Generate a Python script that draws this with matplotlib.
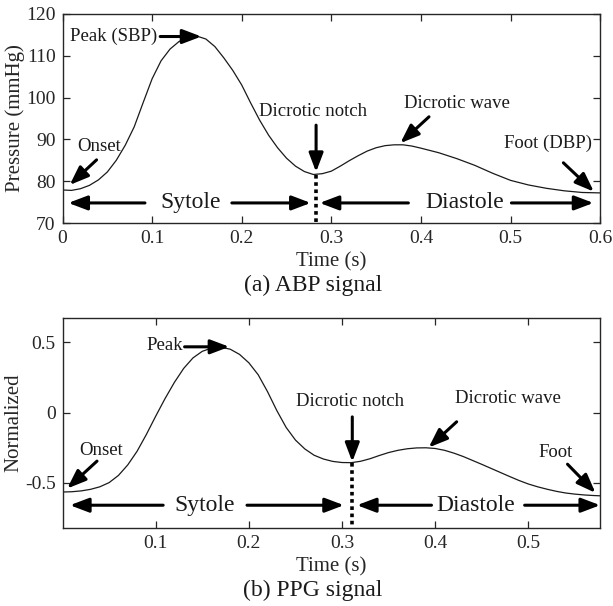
import matplotlib
matplotlib.use("Agg")
import matplotlib.pyplot as plt

plt.rcParams['font.family'] = ['Liberation Serif', 'DejaVu Serif']

# ABP waveform (time in s, pressure in mmHg)
abp_t = [0.000, 0.010, 0.020, 0.030, 0.040, 0.050, 0.060, 0.070, 0.080, 0.090,
         0.100, 0.110, 0.120, 0.130, 0.140, 0.150, 0.160, 0.170, 0.180, 0.190,
         0.200, 0.210, 0.220, 0.230, 0.240, 0.250, 0.260, 0.270, 0.280, 0.290,
         0.300, 0.310, 0.320, 0.330, 0.340, 0.350, 0.360, 0.370, 0.380, 0.390,
         0.400, 0.420, 0.440, 0.460, 0.480, 0.500, 0.520, 0.540, 0.560, 0.580,
         0.600]
abp_p = [77.9, 77.8, 78.2, 79.0, 80.3, 82.2, 85.0, 88.6, 93.0, 98.8,
         104.5, 108.8, 111.6, 113.4, 114.4, 114.7, 114.0, 112.2, 109.5, 106.5,
         103.0, 98.7, 94.6, 91.0, 88.0, 85.5, 83.6, 82.3, 81.6, 81.8,
         82.4, 83.6, 84.9, 86.1, 87.2, 88.0, 88.5, 88.7, 88.7, 88.4,
         87.9, 86.8, 85.4, 83.8, 81.9, 80.2, 79.1, 78.3, 77.7, 77.3,
         77.2]

# PPG waveform (time in s, normalized amplitude)
ppg_t = [0.000, 0.010, 0.020, 0.030, 0.040, 0.050, 0.060, 0.070, 0.080, 0.090,
         0.100, 0.110, 0.120, 0.130, 0.140, 0.150, 0.160, 0.170, 0.180, 0.190,
         0.200, 0.210, 0.220, 0.230, 0.240, 0.250, 0.260, 0.270, 0.280, 0.290,
         0.300, 0.310, 0.320, 0.330, 0.340, 0.350, 0.360, 0.370, 0.380, 0.390,
         0.400, 0.410, 0.420, 0.430, 0.440, 0.450, 0.460, 0.470, 0.480, 0.490,
         0.500, 0.510, 0.520, 0.530, 0.540, 0.550, 0.560, 0.570, 0.577]
ppg_v = [-0.565, -0.563, -0.557, -0.546, -0.528, -0.498, -0.447, -0.372, -0.275, -0.155,
         -0.025, 0.100, 0.215, 0.315, 0.390, 0.437, 0.460, 0.466, 0.452, 0.415,
         0.355, 0.270, 0.150, 0.015, -0.105, -0.195, -0.258, -0.303, -0.330, -0.347,
         -0.355, -0.356, -0.346, -0.328, -0.305, -0.284, -0.268, -0.257, -0.251, -0.250,
         -0.255, -0.268, -0.288, -0.312, -0.340, -0.368, -0.397, -0.426, -0.455, -0.483,
         -0.508, -0.528, -0.545, -0.560, -0.572, -0.580, -0.586, -0.590, -0.592]

abp_xticks = [0, 0.1, 0.2, 0.3, 0.4, 0.5, 0.6]
abp_xlabels = ['0', '0.1', '0.2', '0.3', '0.4', '0.5', '0.6']
abp_yticks = [70, 80, 90, 100, 110, 120]
ppg_xticks = [0.1, 0.2, 0.3, 0.4, 0.5]
ppg_xlabels = ['0.1', '0.2', '0.3', '0.4', '0.5']
ppg_yticks = [-0.5, 0, 0.5]
ppg_ylabels = ['-0.5', '0', '0.5']

# notch times used for the systole/diastole divider
abp_notch = (0.283, 81.6)
ppg_notch = (0.311, -0.356)

AX_COLOR = '#262626'
ARROW = dict(arrowstyle='-|>,head_length=0.95,head_width=0.36', lw=2.2,
             color='black', shrinkA=0, shrinkB=0, mutation_scale=12)


def arrow(ax, tail, tip):
    ax.annotate('', xy=tip, xytext=tail, arrowprops=ARROW)


def style_axes(ax):
    for s in ax.spines.values():
        s.set_color(AX_COLOR)
        s.set_linewidth(1.0)
    ax.tick_params(direction='in', length=5, width=0.9, colors=AX_COLOR,
                   labelsize=14, top=True, right=True, pad=5)


fig = plt.figure(figsize=(6.13, 6.06), dpi=100)
ax1 = fig.add_axes([0.102, 0.632, 0.877, 0.345])
ax2 = fig.add_axes([0.102, 0.129, 0.877, 0.3455])

# (a) ABP
ax1.plot(abp_t, abp_p, color='#1a1a1a', lw=0.9)
ax1.set_xlim(0, 0.6)
ax1.set_ylim(70, 120)
ax1.set_xticks(abp_xticks)
ax1.set_xticklabels(abp_xlabels)
ax1.set_yticks(abp_yticks)
style_axes(ax1)
ax1.set_xlabel('Time (s)', fontsize=15, color=AX_COLOR, labelpad=4)
ax1.set_ylabel('Pressure (mmHg)', fontsize=15, color=AX_COLOR, labelpad=1)

ann = dict(fontsize=13.5, color='#1a1a1a')
ax1.text(0.008, 114.6, 'Peak (SBP)', ha='left', va='center', **ann)
arrow(ax1, (0.109, 114.6), (0.155, 114.6))
ax1.text(0.041, 88.2, 'Onset', ha='center', va='center', **ann)
arrow(ax1, (0.038, 85.1), (0.008, 79.1))
ax1.text(0.279, 96.6, 'Dicrotic notch', ha='center', va='center', **ann)
arrow(ax1, (abp_notch[0], 93.4), (abp_notch[0], 82.2))
ax1.text(0.440, 98.6, 'Dicrotic wave', ha='center', va='center', **ann)
arrow(ax1, (0.409, 95.4), (0.377, 89.1))
ax1.text(0.542, 89.0, 'Foot (DBP)', ha='center', va='center', **ann)
arrow(ax1, (0.559, 84.4), (0.593, 77.5))

ax1.plot([abp_notch[0], abp_notch[0]], [abp_notch[1], 70], color='black',
         lw=2.6, ls=(0, (1, 1)))
ax1.text(0.143, 74.8, 'Sytole', ha='center', va='center', fontsize=17, color='#1a1a1a')
arrow(ax1, (0.092, 74.8), (0.0065, 74.8))
arrow(ax1, (0.189, 74.8), (0.277, 74.8))
ax1.text(0.449, 74.8, 'Diastole', ha='center', va='center', fontsize=17, color='#1a1a1a')
arrow(ax1, (0.386, 74.8), (0.287, 74.8))
arrow(ax1, (0.501, 74.8), (0.5925, 74.8))

# (b) PPG
ax2.plot(ppg_t, ppg_v, color='#1a1a1a', lw=0.9)
ax2.set_xlim(0, 0.577)
ax2.set_ylim(-0.82, 0.671)
ax2.set_xticks(ppg_xticks)
ax2.set_xticklabels(ppg_xlabels)
ax2.set_yticks(ppg_yticks)
ax2.set_yticklabels(ppg_ylabels)
style_axes(ax2)
ax2.set_xlabel('Time (s)', fontsize=15, color=AX_COLOR, labelpad=4)
ax2.set_ylabel('Normalized', fontsize=15, color=AX_COLOR, labelpad=1)

ax2.text(0.110, 0.480, 'Peak', ha='center', va='center', **ann)
arrow(ax2, (0.131, 0.469), (0.179, 0.469))
ax2.text(0.041, -0.267, 'Onset', ha='center', va='center', **ann)
arrow(ax2, (0.037, -0.345), (0.005, -0.540))
ax2.text(0.309, 0.077, 'Dicrotic notch', ha='center', va='center', **ann)
arrow(ax2, (ppg_notch[0], -0.030), (ppg_notch[0], -0.350))
ax2.text(0.478, 0.101, 'Dicrotic wave', ha='center', va='center', **ann)
arrow(ax2, (0.423, -0.065), (0.393, -0.248))
ax2.text(0.529, -0.286, 'Foot', ha='center', va='center', **ann)
arrow(ax2, (0.542, -0.367), (0.572, -0.571))

ax2.plot([ppg_notch[0], ppg_notch[0]], [ppg_notch[1], -0.82], color='black',
         lw=2.6, ls=(0, (1, 1)))
ax2.text(0.152, -0.659, 'Sytole', ha='center', va='center', fontsize=17, color='#1a1a1a')
arrow(ax2, (0.108, -0.659), (0.008, -0.659))
arrow(ax2, (0.198, -0.659), (0.302, -0.659))
ax2.text(0.443, -0.659, 'Diastole', ha='center', va='center', fontsize=17, color='#1a1a1a')
arrow(ax2, (0.396, -0.659), (0.316, -0.659))
arrow(ax2, (0.496, -0.659), (0.577, -0.659))

fig.text(0.51, 0.529, '(a) ABP signal', ha='center', va='center', fontsize=17, color='#1a1a1a')
fig.text(0.51, 0.026, '(b) PPG signal', ha='center', va='center', fontsize=17, color='#1a1a1a')

fig.savefig('out.png', dpi=100)
